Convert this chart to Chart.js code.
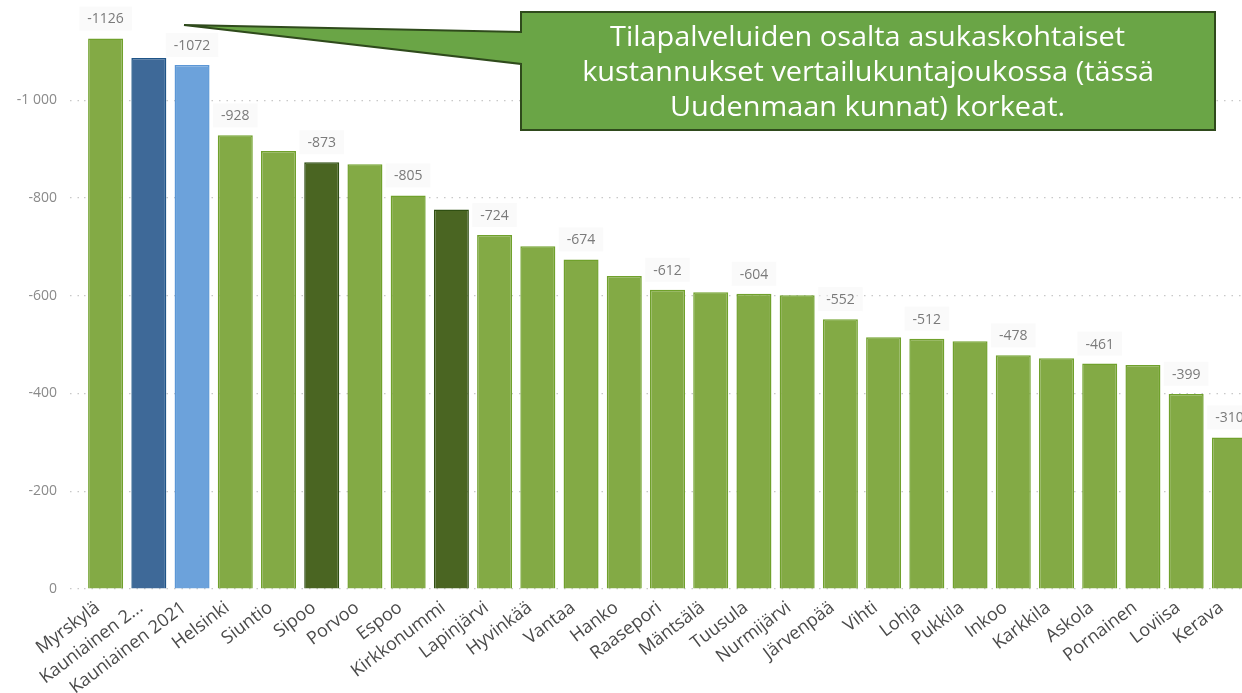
<!DOCTYPE html>
<html>
<head>
<meta charset="utf-8">
<script src="https://cdn.jsdelivr.net/npm/chart.js@4/dist/chart.umd.min.js"></script>
<style>
    html, body { margin: 0; padding: 0; background: #fff; overflow: hidden; width: 1242px; height: 693px; }
    #wrap { position: absolute; left: 0; top: 0; width: 1251px; height: 693px; }
    #callout { position: absolute; left: 0; top: 0; }
    #calloutText {
        position: absolute; left: 521px; top: 18px; width: 694px;
        text-align: center; color: #fff; font-family: 'Open Sans', sans-serif;
        font-size: 27px; line-height: 35px; white-space: nowrap;
    }
    #calloutText span { display: inline-block; }
</style>
</head>
<body>
<div id="wrap"><canvas id="grafico" width="1251" height="693"></canvas></div>
<svg id="callout" width="1242" height="693">
    <path d="M521,12 H1215 V130 H521 V64 L184,25 L521,32 Z" fill="#6AA546" stroke="#2F4A1C" stroke-width="2" stroke-linejoin="miter"/>
</svg>
<div id="calloutText">
    <span>Tilapalveluiden osalta asukaskohtaiset</span><br>
    <span>kustannukset vertailukuntajoukossa (tässä</span><br>
    <span>Uudenmaan kunnat) korkeat.</span>
</div>
<script>
// kunnat ja arvot (euroa / asukas)
const kunnat = ['Myrskylä', 'Kauniainen 2...', 'Kauniainen 2021', 'Helsinki', 'Siuntio', 'Sipoo', 'Porvoo', 'Espoo',
    'Kirkkonummi', 'Lapinjärvi', 'Hyvinkää', 'Vantaa', 'Hanko', 'Raasepori', 'Mäntsälä', 'Tuusula', 'Nurmijärvi',
    'Järvenpää', 'Vihti', 'Lohja', 'Pukkila', 'Inkoo', 'Karkkila', 'Askola', 'Pornainen', 'Loviisa', 'Kerava'];
const arvot = [-1126, -1086, -1072, -928, -896, -873, -869, -805, -776, -724, -701, -674, -640, -612, -607, -604,
    -601, -552, -515, -512, -507, -478, -472, -461, -458, -399, -310];
// millä pylväillä arvo näkyy
const naytaArvo = [true, false, true, true, false, true, false, true, false, true, false, true, false, true, false,
    true, false, true, false, true, false, true, false, true, false, true, true];
// ryhmä: 0 = normaali, 1 = korostettu, 2 = Kauniainen vanha, 3 = Kauniainen 2021
const ryhma = [0, 2, 3, 0, 0, 1, 0, 0, 1, 0, 0, 0, 0, 0, 0, 0, 0, 0, 0, 0, 0, 0, 0, 0, 0, 0, 0];
const yTicks = [0, -200, -400, -600, -800, -1000];

const taytto = ['#83AA45', '#4A6522', '#3E6998', '#6CA2DB'];
const reuna = ['#70A12C', '#2F4F12', '#1F5487', '#5C97D6'];

function muotoile(v) {
    let s = String(Math.abs(v)).replace(/\B(?=(\d{3})+(?!\d))/g, ' ');
    return (v < 0 ? '-' : '') + s;
}

const arvoLabelit = {
    id: 'arvoLabelit',
    afterDatasetsDraw(chart) {
        const ctx = chart.ctx;
        const meta = chart.getDatasetMeta(0);
        ctx.save();
        ctx.font = '14px "Open Sans", sans-serif';
        ctx.textAlign = 'center';
        ctx.textBaseline = 'middle';
        meta.data.forEach((bar, i) => {
            if (!naytaArvo[i]) return;
            const txt = String(arvot[i]);
            const w = ctx.measureText(txt).width;
            ctx.fillStyle = 'rgba(245,245,245,0.45)';
            ctx.fillRect(bar.x - w / 2 - 8, bar.y - 32, w + 16, 24);
            ctx.fillStyle = '#7a7a7a';
            ctx.fillText(txt, bar.x, bar.y - 19);
        });
        ctx.restore();
    }
};

const data = {
    labels: kunnat,
    datasets: [{
        data: arvot,
        backgroundColor: ryhma.map(r => taytto[r]),
        borderColor: ryhma.map(r => reuna[r]),
        borderWidth: 1.5,
        barPercentage: 0.81,
        categoryPercentage: 1
    }]
};

const config = {
    type: 'bar',
    data: data,
    options: {
        responsive: false,
        animation: false,
        devicePixelRatio: 1,
        layout: { padding: { top: 2, left: 0, right: 0, bottom: 0 } },
        plugins: {
            legend: { display: false },
            tooltip: { enabled: false }
        },
        scales: {
            x: {
                grid: { display: false },
                border: { display: false },
                ticks: {
                    color: '#4a4a4a',
                    font: { family: '"Open Sans", sans-serif', size: 18 },
                    minRotation: 37,
                    maxRotation: 37,
                    autoSkip: false,
                    padding: 0,
                    labelOffset: -8
                },
                afterFit(scale) { scale.height = 104; }
            },
            y: {
                reverse: true,
                min: -1161,
                max: 0,
                afterBuildTicks(scale) {
                    scale.ticks = yTicks.map(v => ({ value: v }));
                },
                grid: {
                    color: '#c8c8c8',
                    lineWidth: 1.2,
                    tickLength: 14,
                    tickColor: '#c8c8c8',
                    tickBorderDash: [1.5, 6]
                },
                border: { display: false, dash: [1.5, 6] },
                ticks: {
                    color: '#8a8a8a',
                    font: { family: '"Open Sans", sans-serif', size: 14 },
                    padding: 13,
                    callback: v => muotoile(v)
                },
                afterFit(scale) { scale.width = 84; }
            }
        }
    },
    plugins: [arvoLabelit]
};

const grafico = new Chart(document.getElementById('grafico'), config);

// puristetaan tekstiä hieman kuten kapea fontti
const spans = document.querySelectorAll('#calloutText span');
let leveys = 0;
spans.forEach(s => { leveys = Math.max(leveys, s.getBoundingClientRect().width); });
const kerroin = 572 / leveys;
spans.forEach(s => { s.style.transform = 'scaleX(' + kerroin + ')'; });
</script>
</body>
</html>
